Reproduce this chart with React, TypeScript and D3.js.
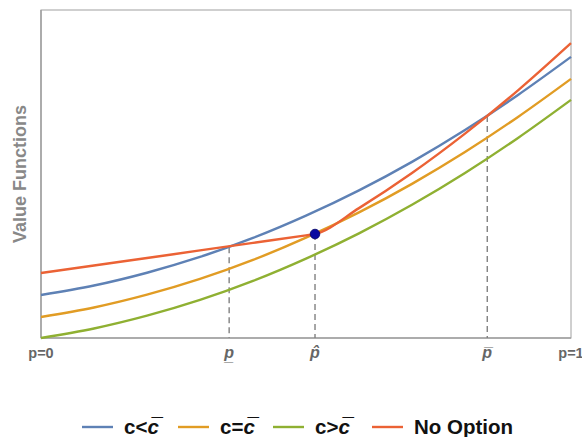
import React from "react";
import * as d3 from "d3";

// Belief grid and value function samples
const pGrid = [0, 0.1, 0.2, 0.3, 0.4, 0.5, 0.6, 0.7, 0.8, 0.9, 1];
const lowCost = [13.1, 16.0, 19.9, 24.7, 30.5, 37.3, 45.0, 53.7, 63.4, 74.1, 85.7];
const equalCost = [6.4, 9.3, 13.2, 18.0, 23.8, 30.6, 38.3, 47.0, 56.7, 67.4, 79.0];
const highCost = [0, 2.9, 6.8, 11.6, 17.4, 24.2, 31.9, 40.6, 50.3, 61.0, 72.6];

// No Option: linear up to p-hat, then convex
const noOptionP = [0, 0.1, 0.2, 0.3, 0.4, 0.5, 0.517, 0.6, 0.7, 0.8, 0.9, 1];
const noOptionV = [19.8, 22.1, 24.4, 26.7, 29.0, 31.3, 31.7, 39.6, 50.3, 62.3, 75.5, 89.9];

// Threshold beliefs and the curve heights where they are marked
const markerP = [0.355, 0.517, 0.842];
const markerV = [27.7, 31.7, 67.7];
const markerLabels = ["p\u0332", "p\u0302", "p\u0305"];

const endLabels = ["p=0", "p=1"];

// legend: relation sign followed by the italic c-bar
const seriesPrefix = ["c<", "c=", "c>", "No Option"];
const seriesSuffix = ["c\u0305", "c\u0305", "c\u0305", ""];
const seriesColors = ["#5E81B5", "#E19C24", "#8FB032", "#EB6235"];

const W = 582;
const H = 437;
const left = 41;
const right = 571;
const top = 10;
const bottom = 338;

export default function App() {
  const x = d3.scaleLinear().domain([0, 1]).range([left, right]);
  const y = d3.scaleLinear().domain([0, 100]).range([bottom, top]);

  const line = d3
    .line<[number, number]>()
    .x((d) => x(d[0]))
    .y((d) => y(d[1]))
    .curve(d3.curveMonotoneX);

  const gridSeries = [lowCost, equalCost, highCost].map((vals) =>
    line(pGrid.map((p, i) => [p, vals[i]] as [number, number]))
  );
  const noOptionPath = line(noOptionP.map((p, i) => [p, noOptionV[i]] as [number, number]));

  const font = "'Liberation Sans', Arial, sans-serif";

  const legendX = [82, 178, 273, 372];

  return (
    <svg
      width={W}
      height={H}
      style={{ position: "absolute", left: 0, top: 0, background: "#fff" }}
      fontFamily={font}
    >
      {/* frame */}
      <rect
        x={left}
        y={top}
        width={right - left}
        height={bottom - top}
        fill="none"
        stroke="#a0a0a0"
        strokeWidth={1}
      />
      <line x1={left} x2={left} y1={top} y2={bottom} stroke="#a0a0a0" strokeWidth={1.5} />
      <line x1={left} x2={right} y1={bottom} y2={bottom} stroke="#a0a0a0" strokeWidth={1.5} />

      {/* dashed threshold guides */}
      {markerP.map((p, i) => (
        <line
          key={"g" + i}
          x1={x(p)}
          x2={x(p)}
          y1={y(markerV[i])}
          y2={bottom}
          stroke="#808080"
          strokeWidth={1.4}
          strokeDasharray="6,4"
        />
      ))}

      {/* value functions */}
      {gridSeries.map((d, i) => (
        <path key={"s" + i} d={d || ""} fill="none" stroke={seriesColors[i]} strokeWidth={2.4} />
      ))}
      <path d={noOptionPath || ""} fill="none" stroke={seriesColors[3]} strokeWidth={2.4} />

      {/* p-hat point */}
      <circle cx={x(markerP[1])} cy={y(markerV[1])} r={4.8} fill="#0a0aa0" stroke="#000066" strokeWidth={0.8} />

      {/* x labels */}
      {[0, 1].map((p, i) => (
        <text
          key={"e" + i}
          x={x(p)}
          y={358}
          textAnchor="middle"
          fontSize={14.5}
          fontWeight="bold"
          fill="#666"
        >
          {endLabels[i]}
        </text>
      ))}
      {markerP.map((p, i) => (
        <text
          key={"m" + i}
          x={x(p)}
          y={358}
          textAnchor="middle"
          fontSize={16}
          fontWeight="bold"
          fontStyle="italic"
          fill="#666"
        >
          {markerLabels[i]}
        </text>
      ))}

      {/* y label */}
      <text
        transform={`translate(26,${(top + bottom) / 2}) rotate(-90)`}
        textAnchor="middle"
        fontSize={18}
        fontWeight="bold"
        fill="#888"
      >
        Value Functions
      </text>

      {/* legend */}
      {seriesPrefix.map((name, i) => (
        <g key={"l" + i} transform={`translate(${legendX[i]},427)`}>
          <line x1={0} x2={31} y1={0} y2={0} stroke={seriesColors[i]} strokeWidth={2.4} />
          <text x={42} y={7} fontSize={20.5} fontWeight="bold" fill="#111">
            {name}
            {seriesSuffix[i] && <tspan fontStyle="italic">{seriesSuffix[i]}</tspan>}
          </text>
        </g>
      ))}
    </svg>
  );
}
